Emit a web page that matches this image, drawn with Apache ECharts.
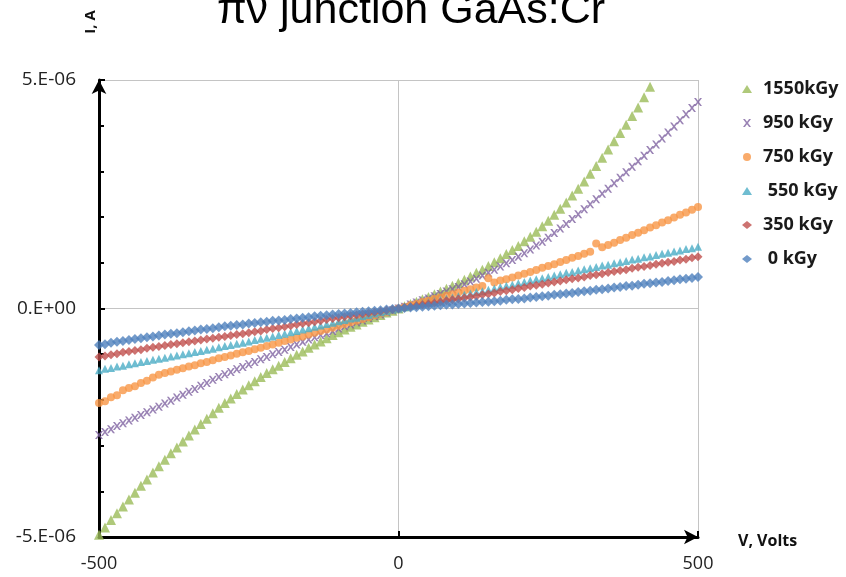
<!DOCTYPE html>
<html>
<head>
<meta charset="utf-8">
<script src="https://cdn.jsdelivr.net/npm/echarts@6/dist/echarts.min.js"></script>
<style>
  html, body { margin: 0; padding: 0; background: #fff; }
  #chart { width: 846px; height: 577px; }
</style>
</head>
<body>
<div id="chart"></div>
<script>
// voltage sweep, V
const voltage = [
  -500, -490, -480, -470, -460, -450, -440, -430, -420, -410,
  -400, -390, -380, -370, -360, -350, -340, -330, -320, -310,
  -300, -290, -280, -270, -260, -250, -240, -230, -220, -210,
  -200, -190, -180, -170, -160, -150, -140, -130, -120, -110,
  -100, -90, -80, -70, -60, -50, -40, -30, -20, -10,
  0,
  10, 20, 30, 40, 50, 60, 70, 80, 90, 100,
  110, 120, 130, 140, 150, 160, 170, 180, 190, 200,
  210, 220, 230, 240, 250, 260, 270, 280, 290, 300,
  310, 320, 330, 340, 350, 360, 370, 380, 390, 400,
  410, 420, 430, 440, 450, 460, 470, 480, 490, 500
];

// currents in microamps
const i1550 = [
  -4.95, -4.79, -4.63, -4.48, -4.33, -4.18, -4.03, -3.88, -3.74, -3.59,
  -3.45, -3.31, -3.17, -3.04, -2.91, -2.78, -2.65, -2.53, -2.41, -2.29,
  -2.17, -2.07, -1.97, -1.87, -1.77, -1.68, -1.59, -1.50, -1.41, -1.33,
  -1.25, -1.17, -1.09, -1.01, -0.94, -0.86, -0.79, -0.72, -0.65, -0.58,
  -0.52, -0.46, -0.40, -0.35, -0.29, -0.24, -0.19, -0.14, -0.09, -0.05,
  0,
  0.05, 0.10, 0.15, 0.20, 0.25, 0.31, 0.37, 0.43, 0.50, 0.56,
  0.63, 0.70, 0.78, 0.85, 0.93, 1.01, 1.10, 1.19, 1.28, 1.37,
  1.47, 1.57, 1.68, 1.80, 1.92, 2.05, 2.18, 2.32, 2.47, 2.62,
  2.78, 2.95, 3.12, 3.30, 3.48, 3.66, 3.84, 4.02, 4.21, 4.40,
  4.62, 4.85
];
const i950 = [
  -2.77, -2.70, -2.64, -2.57, -2.51, -2.45, -2.39, -2.33, -2.27, -2.21,
  -2.15, -2.08, -2.02, -1.95, -1.89, -1.82, -1.76, -1.69, -1.63, -1.56,
  -1.50, -1.44, -1.39, -1.33, -1.28, -1.22, -1.17, -1.11, -1.06, -1.00,
  -0.95, -0.90, -0.84, -0.79, -0.73, -0.68, -0.63, -0.58, -0.54, -0.49,
  -0.44, -0.39, -0.35, -0.30, -0.26, -0.21, -0.17, -0.13, -0.08, -0.04,
  0,
  0.04, 0.09, 0.13, 0.18, 0.22, 0.27, 0.32, 0.37, 0.42, 0.47,
  0.53, 0.59, 0.65, 0.72, 0.78, 0.85, 0.92, 0.99, 1.06, 1.13,
  1.21, 1.29, 1.38, 1.46, 1.55, 1.65, 1.75, 1.85, 1.96, 2.06,
  2.17, 2.28, 2.39, 2.51, 2.62, 2.74, 2.86, 2.98, 3.10, 3.22,
  3.34, 3.47, 3.59, 3.72, 3.85, 3.98, 4.12, 4.25, 4.39, 4.52
];
const i750 = [
  -2.07, -2.03, -1.94, -1.90, -1.79, -1.74, -1.70, -1.63, -1.58, -1.51,
  -1.45, -1.41, -1.38, -1.34, -1.31, -1.27, -1.24, -1.20, -1.17, -1.13,
  -1.09, -1.06, -1.03, -0.99, -0.96, -0.93, -0.89, -0.86, -0.82, -0.79,
  -0.75, -0.71, -0.68, -0.64, -0.61, -0.57, -0.53, -0.49, -0.46, -0.42,
  -0.38, -0.34, -0.30, -0.27, -0.23, -0.19, -0.15, -0.11, -0.08, -0.04,
  0,
  0.03, 0.07, 0.10, 0.14, 0.17, 0.21, 0.24, 0.28, 0.31, 0.35,
  0.39, 0.42, 0.46, 0.49, 0.66, 0.57, 0.61, 0.64, 0.68, 0.72,
  0.76, 0.80, 0.84, 0.89, 0.93, 0.97, 1.02, 1.06, 1.11, 1.15,
  1.20, 1.24, 1.42, 1.34, 1.39, 1.44, 1.50, 1.55, 1.61, 1.66,
  1.71, 1.77, 1.82, 1.88, 1.93, 1.99, 2.05, 2.10, 2.16, 2.22
];
const i550 = [
  -1.35, -1.32, -1.30, -1.27, -1.25, -1.22, -1.20, -1.17, -1.15, -1.12,
  -1.10, -1.08, -1.05, -1.03, -1.00, -0.98, -0.95, -0.93, -0.90, -0.88,
  -0.85, -0.82, -0.80, -0.77, -0.75, -0.72, -0.69, -0.66, -0.64, -0.61,
  -0.58, -0.55, -0.52, -0.49, -0.46, -0.43, -0.40, -0.37, -0.34, -0.31,
  -0.28, -0.25, -0.22, -0.20, -0.17, -0.14, -0.11, -0.08, -0.06, -0.03,
  0,
  0.03, 0.05, 0.08, 0.11, 0.13, 0.16, 0.19, 0.22, 0.24, 0.27,
  0.30, 0.33, 0.36, 0.38, 0.41, 0.44, 0.47, 0.50, 0.52, 0.55,
  0.58, 0.61, 0.64, 0.66, 0.69, 0.72, 0.75, 0.78, 0.80, 0.83,
  0.86, 0.88, 0.91, 0.94, 0.96, 0.99, 1.01, 1.04, 1.07, 1.09,
  1.12, 1.14, 1.17, 1.20, 1.22, 1.25, 1.27, 1.30, 1.32, 1.35
];
const i350 = [
  -1.06, -1.04, -1.01, -0.99, -0.96, -0.94, -0.92, -0.90, -0.87, -0.85,
  -0.83, -0.81, -0.79, -0.77, -0.75, -0.73, -0.71, -0.69, -0.67, -0.65,
  -0.63, -0.61, -0.59, -0.57, -0.55, -0.53, -0.51, -0.49, -0.46, -0.44,
  -0.42, -0.40, -0.38, -0.35, -0.33, -0.31, -0.29, -0.27, -0.24, -0.22,
  -0.20, -0.18, -0.16, -0.14, -0.12, -0.10, -0.08, -0.06, -0.04, -0.02,
  0,
  0.02, 0.04, 0.06, 0.08, 0.10, 0.12, 0.14, 0.17, 0.19, 0.21,
  0.23, 0.25, 0.27, 0.30, 0.32, 0.34, 0.37, 0.39, 0.41, 0.44,
  0.46, 0.49, 0.51, 0.53, 0.56, 0.58, 0.60, 0.63, 0.65, 0.67,
  0.69, 0.72, 0.74, 0.76, 0.79, 0.81, 0.83, 0.85, 0.88, 0.90,
  0.92, 0.94, 0.97, 0.99, 1.01, 1.03, 1.06, 1.08, 1.11, 1.13
];
const i0 = [
  -0.80, -0.78, -0.75, -0.73, -0.71, -0.69, -0.67, -0.65, -0.63, -0.61,
  -0.59, -0.57, -0.55, -0.54, -0.52, -0.50, -0.48, -0.46, -0.45, -0.43,
  -0.41, -0.39, -0.38, -0.36, -0.35, -0.33, -0.32, -0.30, -0.29, -0.27,
  -0.26, -0.25, -0.23, -0.22, -0.20, -0.19, -0.17, -0.16, -0.15, -0.13,
  -0.12, -0.11, -0.10, -0.08, -0.07, -0.06, -0.05, -0.04, -0.02, -0.01,
  0,
  0.01, 0.02, 0.03, 0.04, 0.05, 0.06, 0.07, 0.08, 0.09, 0.10,
  0.11, 0.12, 0.13, 0.14, 0.15, 0.16, 0.17, 0.19, 0.20, 0.21,
  0.22, 0.24, 0.25, 0.27, 0.28, 0.30, 0.31, 0.33, 0.34, 0.36,
  0.38, 0.39, 0.41, 0.42, 0.44, 0.46, 0.47, 0.49, 0.50, 0.52,
  0.54, 0.55, 0.57, 0.58, 0.60, 0.62, 0.64, 0.65, 0.67, 0.69
];

const seriesNames = ['1550kGy', '950 kGy', '750 kGy', ' 550 kGy', '350 kGy', ' 0 kGy'];
const yTickValues = [-5e-6, 0, 5e-6];
const yTickLabels = ['-5.E-06', '0.E+00', '5.E-06'];
const xTickLabels = ['-500', '0', '500'];

// x-shaped marker used by the 950 kGy series
const crossPath = 'path://M0,0L2.4,0L5,3.4L7.6,0L10,0L6.3,5L10,10L7.6,10L5,6.6L2.4,10L0,10L3.7,5Z';

function toPairs(currents) {
  let pts = [];
  for (let k = 0; k < currents.length; k++) {
    pts.push([voltage[k], currents[k] * 1e-6]);
  }
  return pts;
}

function yLabel(value) {
  for (let k = 0; k < yTickValues.length; k++) {
    if (Math.abs(value - yTickValues[k]) < 1e-9) return yTickLabels[k];
  }
  return '';
}

const chart = echarts.init(document.getElementById('chart'), null, { renderer: 'canvas' });

chart.setOption({
  backgroundColor: '#fff',
  animation: false,
  textStyle: { fontFamily: 'Open Sans' },
  grid: {
    left: 99,
    right: 148,
    top: 80,
    bottom: 40
  },
  legend: {
    orient: 'vertical',
    left: 737,
    top: 74,
    itemWidth: 10,
    itemHeight: 8,
    itemGap: 14,
    textStyle: {
      fontFamily: 'Open Sans',
      fontWeight: 'bold',
      fontSize: 18,
      lineHeight: 20,
      padding: [0, 0, 0, 6],
      color: '#1a1a1a'
    },
    data: seriesNames
  },
  graphic: [
    {
      type: 'text',
      x: 411,
      y: 11,
      style: {
        text: 'πν junction GaAs:Cr',
        fontFamily: 'Liberation Sans',
        fontSize: 43,
        fill: '#000',
        align: 'center',
        verticalAlign: 'middle'
      }
    },
    {
      type: 'text',
      x: 91,
      y: 22,
      rotation: Math.PI / 2,
      style: {
        text: 'I, A',
        fontFamily: 'Open Sans',
        fontWeight: 'bold',
        fontSize: 15,
        fill: '#111',
        align: 'center',
        verticalAlign: 'middle'
      }
    },
    {
      type: 'text',
      x: 738,
      y: 541,
      style: {
        text: 'V, Volts',
        fontFamily: 'Open Sans',
        fontWeight: 'bold',
        fontSize: 16,
        fill: '#111',
        align: 'left',
        verticalAlign: 'middle'
      }
    }
  ],
  xAxis: {
    type: 'value',
    min: -500,
    max: 500,
    interval: 500,
    axisLine: {
      onZero: false,
      symbol: ['none', 'arrow'],
      symbolSize: [11, 14],
      lineStyle: { color: '#000', width: 3 }
    },
    axisTick: {
      inside: true,
      length: 6,
      lineStyle: { color: '#000', width: 2 }
    },
    axisLabel: {
      margin: 18,
      fontSize: 18,
      fontFamily: 'Open Sans',
      color: '#222',
      formatter: function (v) {
        return xTickLabels[Math.round((v + 500) / 500)];
      }
    },
    splitLine: {
      show: true,
      lineStyle: { color: '#c4c4c4', width: 1 }
    }
  },
  yAxis: {
    type: 'value',
    min: -5e-6,
    max: 5e-6,
    interval: 5e-6,
    axisLine: {
      onZero: false,
      symbol: ['none', 'arrow'],
      symbolSize: [11, 14],
      lineStyle: { color: '#000', width: 3 }
    },
    axisTick: {
      inside: true,
      length: 6,
      lineStyle: { color: '#000', width: 2 }
    },
    minorTick: {
      show: true,
      splitNumber: 5,
      length: 5,
      lineStyle: { color: '#000', width: 2 }
    },
    axisLabel: {
      margin: 23,
      fontSize: 19,
      fontFamily: 'Open Sans',
      color: '#222',
      formatter: yLabel
    },
    splitLine: {
      show: true,
      lineStyle: { color: '#c4c4c4', width: 1 }
    }
  },
  series: [
    {
      name: seriesNames[0],
      type: 'scatter',
      symbol: 'triangle',
      symbolSize: 10,
      itemStyle: { color: '#9BBB59' },
      data: toPairs(i1550)
    },
    {
      name: seriesNames[1],
      type: 'scatter',
      symbol: crossPath,
      symbolSize: 8,
      itemStyle: { color: '#7F63A1' },
      data: toPairs(i950)
    },
    {
      name: seriesNames[2],
      type: 'scatter',
      symbol: 'circle',
      symbolSize: 8,
      itemStyle: { color: '#F79646' },
      data: toPairs(i750)
    },
    {
      name: seriesNames[3],
      type: 'scatter',
      symbol: 'triangle',
      symbolSize: 8,
      itemStyle: { color: '#4BACC6' },
      data: toPairs(i550)
    },
    {
      name: seriesNames[4],
      type: 'scatter',
      symbol: 'diamond',
      symbolSize: 9,
      itemStyle: { color: '#C0504D' },
      data: toPairs(i350)
    },
    {
      name: seriesNames[5],
      type: 'scatter',
      symbol: 'diamond',
      symbolSize: 10,
      itemStyle: { color: '#4F81BD' },
      data: toPairs(i0)
    }
  ]
});
</script>
</body>
</html>
